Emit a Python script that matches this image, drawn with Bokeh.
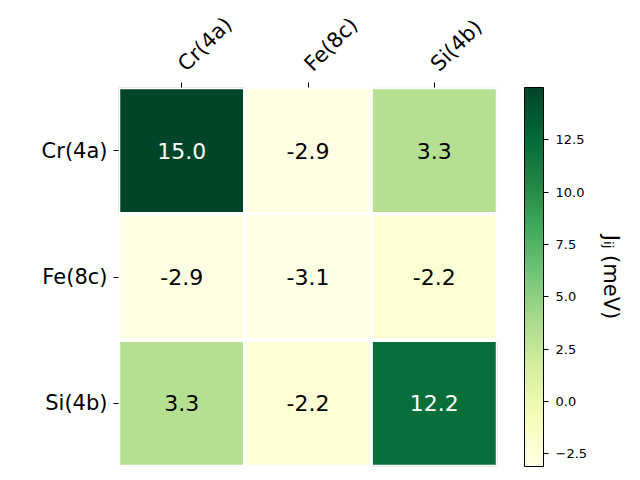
import math
from bokeh.plotting import figure
from bokeh.models import (ColumnDataSource, LinearColorMapper, ColorBar, FixedTicker,
                          CustomJSTickFormatter, Title, FactorRange)
from bokeh.palettes import YlGn9
from bokeh.embed import file_html
from bokeh.resources import INLINE
from bokeh.core.properties import value

sites = ["Cr(4a)", "Fe(8c)", "Si(4b)"]
J_matrix = [
    [15.0, -2.9, 3.3],
    [-2.9, -3.1, -2.2],
    [3.3, -2.2, 12.2],
]
cbar_ticks = [-2.5, 0.0, 2.5, 5.0, 7.5, 10.0, 12.5]
cbar_label = "Jᵢⱼ (meV)"


def interp_palette(anchors, n=256):
    rgb = [tuple(int(c[k:k + 2], 16) for k in (1, 3, 5)) for c in anchors]
    out = []
    m = len(rgb) - 1
    for i in range(n):
        t = i / (n - 1) * m
        k = min(int(t), m - 1)
        f = t - k
        c = tuple(round(rgb[k][q] + (rgb[k + 1][q] - rgb[k][q]) * f) for q in range(3))
        out.append("#%02x%02x%02x" % c)
    return out


palette = interp_palette(list(reversed(YlGn9)))

vmin = min(min(r) for r in J_matrix)
vmax = max(max(r) for r in J_matrix)
mid = (vmin + vmax) / 2

xs, ys, vals, labels, tcolors = [], [], [], [], []
for i, row in enumerate(J_matrix):
    for j, v in enumerate(row):
        xs.append(sites[j])
        ys.append(sites[i])
        vals.append(v)
        labels.append(f"{v:.1f}")
        tcolors.append("white" if v > mid else "black")

src = ColumnDataSource(dict(x=xs, y=ys, v=vals, label=labels, tc=tcolors))
mapper = LinearColorMapper(palette=palette, low=vmin, high=vmax)

FONT = "DejaVu Sans"
p = figure(x_range=FactorRange(*sites), y_range=FactorRange(*reversed(sites)),
           frame_width=379, frame_height=379, x_axis_location="above",
           output_backend="svg", toolbar_location=None,
           min_border_left=118, min_border_top=86, min_border_bottom=7,
           min_border_right=135)

p.rect(x="x", y="y", width=1, height=1, source=src,
       fill_color={"field": "v", "transform": mapper},
       line_color="white", line_width=3.5)
p.text(x="x", y="y", text="label", text_color="tc", source=src,
       text_align="center", text_baseline="middle",
       text_font=value(FONT), text_font_size="22px")

p.grid.visible = False
p.outline_line_color = None
for ax in (p.xaxis, p.yaxis):
    ax.axis_line_color = None
    ax.major_tick_in = 0
    ax.major_tick_out = 5
    ax.major_tick_line_color = "black"
    ax.minor_tick_line_color = None
    ax.major_label_text_font = FONT
    ax.major_label_text_font_size = "21px"
    ax.major_label_text_color = "black"
p.yaxis.major_label_standoff = 6
p.xaxis.major_label_standoff = 15
p.xaxis.major_label_orientation = math.pi / 4

cb = ColorBar(color_mapper=mapper, ticker=FixedTicker(ticks=cbar_ticks),
              formatter=CustomJSTickFormatter(
                  code="return tick.toFixed(1).replace('-', '\u2212') + '\u00a0';"),
              width=19, height=379, padding=0, margin=0, location=(27, 0),
              bar_line_color="black", bar_line_width=1,
              major_tick_in=0, major_tick_out=5, major_tick_line_color="black",
              minor_tick_line_color=None,
              major_label_text_font=FONT, major_label_text_font_size="13px",
              major_label_text_color="black",
              label_standoff=7, border_line_color=None, background_fill_color=None)
p.add_layout(cb, "right")

p.add_layout(Title(text=cbar_label, align="center", text_font=FONT,
                   text_font_size="21px", text_font_style="normal",
                   text_color="black", standoff=8), "right")

open("out.html", "w").write(file_html(p, INLINE))
